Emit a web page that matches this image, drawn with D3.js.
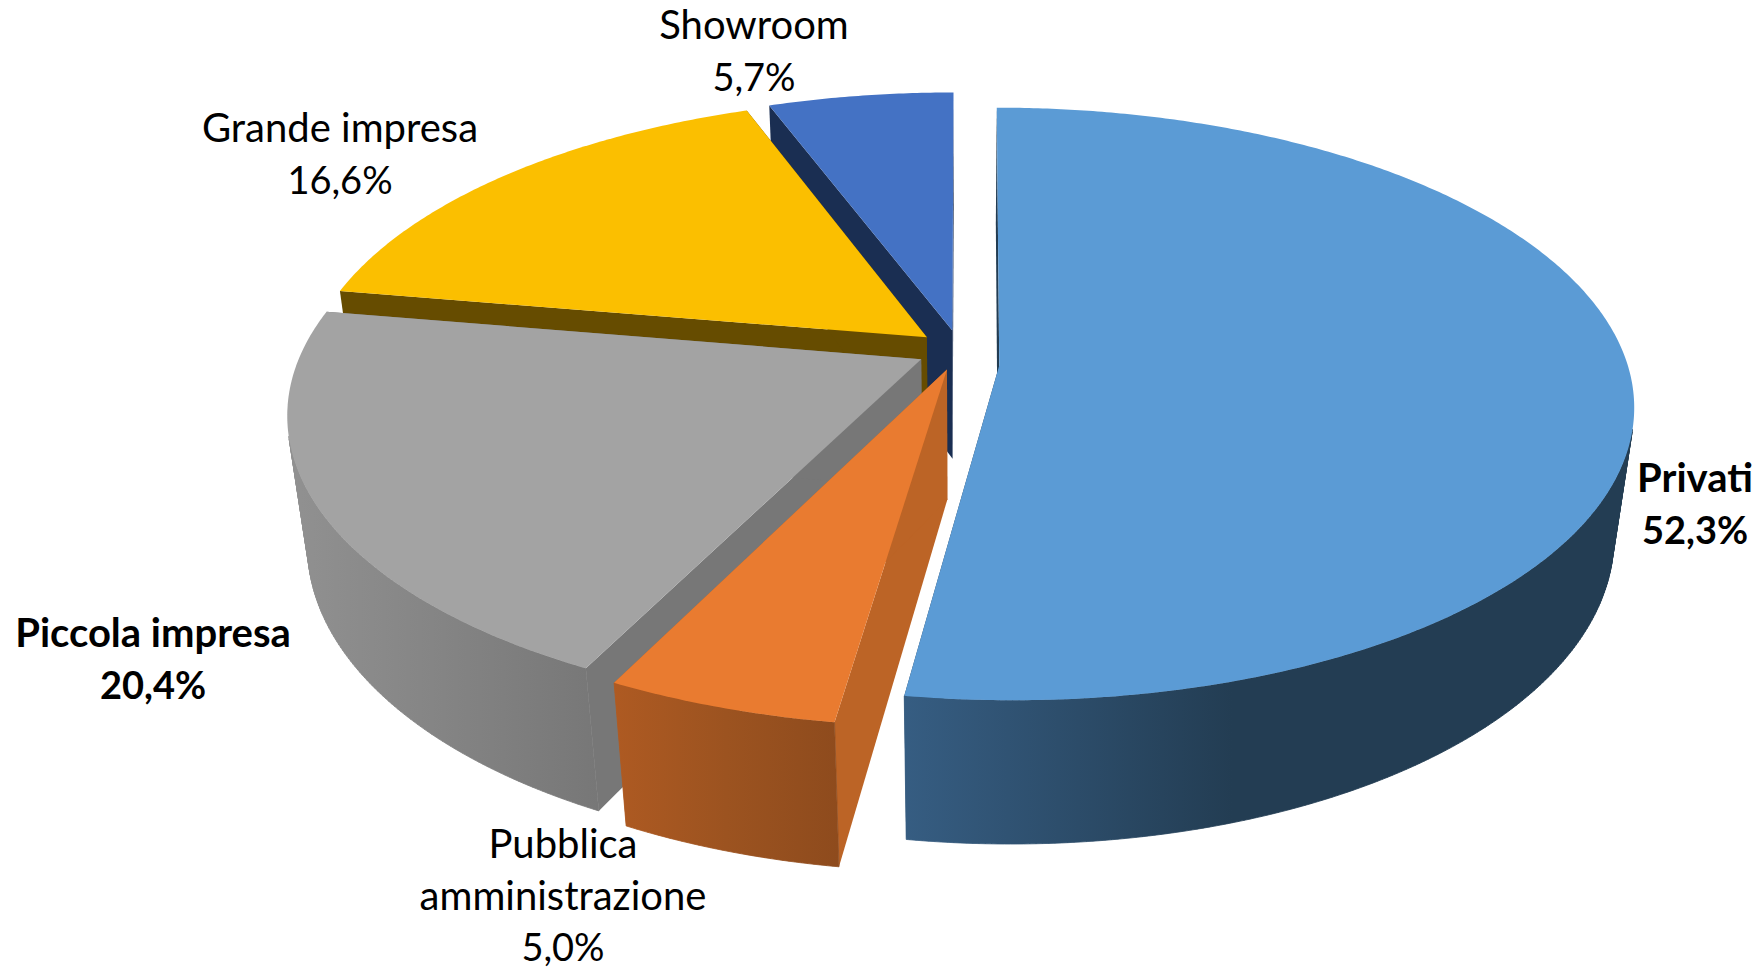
<!DOCTYPE html>
<html>
<head>
<meta charset="utf-8">
<script src="https://cdn.jsdelivr.net/npm/d3@7"></script>
<style>
html, body { margin: 0; padding: 0; background: #fff; }
svg { display: block; }
text { font-family: Lato, "Open Sans", sans-serif; font-size: 40px; fill: #000; }
</style>
</head>
<body>
<svg id="pie" width="1762" height="968"></svg>
<script>
const categories = ["Privati", "Pubblica amministrazione", "Piccola impresa", "Grande impresa", "Showroom"];
const shares = [52.3, 5.0, 20.4, 16.6, 5.7];
const shareLabels = ["52,3%", "5,0%", "20,4%", "16,6%", "5,7%"];

// look of each slice, same order as categories
const topColors = ["#5b9bd5", "#e97b30", "#a3a3a3", "#fbbf00", "#4472c4"];
const edgeColors = ["#223c52", "#bc6426", "#777777", "#664c00", "#1a2e52"];
const wallStops = [
	["#365d82", "#233d53", "#233d53"],
	["#ae5a22", "#9c5320", "#8e4b1d"],
	["#919191", "#848484", "#777777"],
	["#664c00", "#664c00", "#664c00"],
	["#1a2e52", "#1a2e52", "#1a2e52"],
];
const apexShift = [[-4, 14], [0, 0], [0, 0], [0, 0], [0, 0]];
const labelLines = [
	[["Privati"], 1695, 492, true],
	[["Pubblica", "amministrazione"], 563, 858, false],
	[["Piccola impresa"], 153, 647, true],
	[["Grande impresa"], 340, 142, false],
	[["Showroom"], 754, 39, false],
];

const svg = d3.select("svg#pie");
const center = { x: 960, y: 350 };
const view = { a: 619, b: 286.5, depth: 133, persp: 0.177, sink: 0.03, explode: 0.07 };
const lineGap = 51.5;
const rad = Math.PI / 180;

const project = (x, y, z) => {
	const d = 1 + view.persp * y + view.sink * z;
	return [
		center.x + (view.a * x) / d,
		center.y - (view.b * y - view.depth * z) / d,
	];
};

const arcs = d3.pie().sort(null).value((d) => d)(shares);
const polygon = d3.line();
const defs = svg.append("defs");
const chartArea = svg.append("g");

// one point of a slice, at radius r and angle t in the pie's own plane
const pointOf = (slice, t, r, z) => {
	const mid = (slice.startAngle + slice.endAngle) / 2;
	const x = view.explode * Math.sin(mid) + r * Math.sin(t);
	const y = view.explode * Math.cos(mid) + r * Math.cos(t);
	return project(x, y, z);
};

const rimOf = (slice, z) => {
	const angles = d3.range(slice.startAngle, slice.endAngle, 0.5 * rad);
	angles.push(slice.endAngle);
	return angles.map((t) => pointOf(slice, t, 1, z));
};

// back to front
d3.range(shares.length - 1, -1, -1).forEach((i) => {
	const slice = arcs[i];
	const g = chartArea.append("g").attr("class", "slice");
	const topRim = rimOf(slice, 0);
	const bottomRim = rimOf(slice, 1);
	const shiftApex = (p) => [p[0] + apexShift[i][0], p[1] + apexShift[i][1]];
	const apexTop = shiftApex(pointOf(slice, 0, 0, 0));
	const apexBottom = shiftApex(pointOf(slice, 0, 0, 1));

	[0, topRim.length - 1].forEach((k) => {
		g.append("path")
			.attr("d", polygon([apexTop, topRim[k], bottomRim[k], apexBottom]) + "Z")
			.attr("fill", edgeColors[i]);
	});

	// only the strips of the wall that face the viewer
	const strips = d3
		.range(topRim.length - 1)
		.map((k) => [topRim[k], topRim[k + 1], bottomRim[k + 1], bottomRim[k]])
		.filter((q) => d3.polygonArea(q) > 0);
	if (strips.length) {
		const wallExtent = d3.extent(strips.flat(), (p) => p[0]);
		const gradId = `wall-${i}`;
		const grad = defs
			.append("linearGradient")
			.attr("id", gradId)
			.attr("gradientUnits", "userSpaceOnUse")
			.attr("x1", wallExtent[0])
			.attr("x2", wallExtent[1])
			.attr("y1", 0)
			.attr("y2", 0);
		grad.selectAll("stop")
			.data(wallStops[i])
			.join("stop")
			.attr("offset", (d, k) => (i === 0 ? [0, 0.45, 1][k] : k / 2))
			.attr("stop-color", (d) => d);

		g.append("path")
			.attr("d", strips.map((q) => polygon(q) + "Z").join(""))
			.attr("fill", `url(#${gradId})`)
			.attr("stroke", `url(#${gradId})`)
			.attr("stroke-width", 0.8);
	}

	g.append("path")
		.attr("d", polygon([apexTop].concat(topRim)) + "Z")
		.attr("fill", topColors[i]);
});

const labels = svg.append("g").attr("id", "labels");
categories.forEach((name, i) => {
	const [lines, x, y, bold] = labelLines[i];
	labels
		.append("text")
		.attr("text-anchor", "middle")
		.attr("font-weight", bold ? 700 : 400)
		.selectAll("tspan")
		.data(lines.concat([shareLabels[i]]))
		.join("tspan")
		.attr("x", x)
		.attr("y", (d, k) => y + k * lineGap)
		.attr("font-size", (d, k) => (k === lines.length ? 38 : 40))
		.style("font-size", (d, k) => (k === lines.length ? "38px" : "40px"))
		.text((d) => d);
});
</script>
</body>
</html>
